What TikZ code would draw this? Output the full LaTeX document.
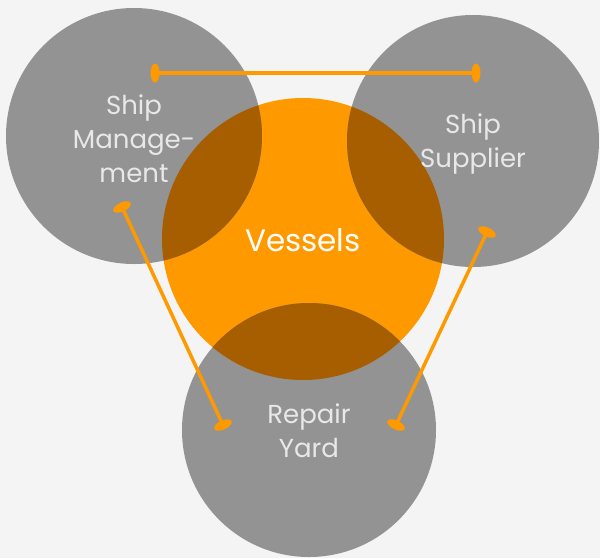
\documentclass[tikz,border=0pt]{standalone}
\usepackage{fontspec}
\setmainfont{Poppins}
\usetikzlibrary{shapes.geometric}
\definecolor{bgcol}{HTML}{F4F4F4}
\definecolor{graycol}{HTML}{939393}
\definecolor{orangecol}{HTML}{FF9900}
\definecolor{overlapcol}{HTML}{A65E00}
\definecolor{labelcol}{HTML}{E8E8E8}
\tikzset{
  graycirc/.style={circle, fill=graycol, inner sep=0pt},
  orangecirc/.style={circle, fill=orangecol, inner sep=0pt},
  label text/.style={text=labelcol, align=center, font=\fontsize{26}{34}\selectfont},
  capdot/.style={ellipse, fill=orangecol, inner sep=0pt, minimum width=9pt, minimum height=19pt},
  link/.style={draw=orangecol, line width=3.5pt}
}
\begin{document}
\begin{tikzpicture}[x=1pt,y=-1pt]
\fill[bgcol] (0,0) rectangle (600,558);
\useasboundingbox (0,0) rectangle (600,558);
% orange circle
\node[orangecirc, minimum size=282pt] (ves) at (303,239) {};
% gray circles
\node[graycirc, minimum size=256pt] (sm) at (134,136) {};
\node[graycirc, minimum size=252pt] (ss) at (473,141) {};
\node[graycirc, minimum size=254pt] (ry) at (309,430) {};
% overlaps
\begin{scope}
  \clip (303,239) circle (141pt);
  \fill[overlapcol] (134,136) circle (128pt);
  \fill[overlapcol] (473,141) circle (126pt);
  \fill[overlapcol] (309,430) circle (127pt);
\end{scope}
% labels
\node[label text] (smt) at (134,139) {Ship\\Manage-\\ment};
\node[label text] (sst) at (473,144) {Ship\\Supplier};
\node[label text] (ryt) at (309,431) {Repair\\Yard};
\node[text=white, font=\fontsize{31}{36}\selectfont] (vest) at (303,240) {Vessels};
% connectors
\node[capdot] (a1) at (155,73) {};
\node[capdot] (a2) at (476,73) {};
\node[capdot, rotate=-65] (b1) at (122,207) {};
\node[capdot, rotate=-65] (b2) at (223,425) {};
\node[capdot, rotate=65] (c1) at (487,232) {};
\node[capdot, rotate=65] (c2) at (396,425) {};
\draw[link] (a1.center) -- (a2.center);
\draw[link] (b1.center) -- (b2.center);
\draw[link] (c1.center) -- (c2.center);
\end{tikzpicture}
\end{document}
